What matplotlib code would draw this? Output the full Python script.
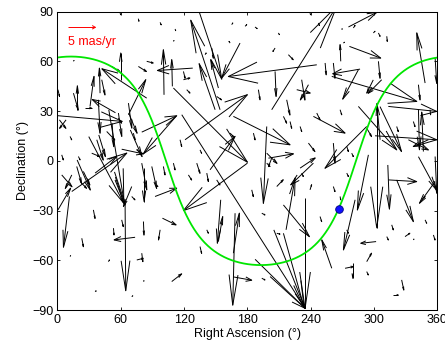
import numpy as np
import matplotlib
matplotlib.use("Agg")
import matplotlib.pyplot as plt
from matplotlib.collections import LineCollection

plt.rcParams["font.family"] = ["Liberation Sans", "DejaVu Sans"]
plt.rcParams["font.size"] = 9

# ---- proper motions: position (deg) and motion (mas/yr) ----
# larger arrows
ra_long = [0.5, 18.9, 30.9, 11.4, 0.5, 40.4, 84.6, 60.0, 67.3, 101.0,
           128.2, 108.9, 134.5, 173.0, 154.1, 245.7, 203.0, 275.7, 276.6, 259.9,
           348.3, 206.2, 313.5, 120.9, 109.9, 166.7, 117.8, 112.4, 79.9, 60.9,
           29.7, 144.6, 198.3, 293.0, 261.4, 300.9, 302.5, 305.7, 285.1, 342.0,
           346.7, 180.0, 214.1, 234.6, 201.5, 216.6, 166.7, 168.3, 154.7, 242.5,
           282.0, 294.6, 259.9, 321.4, 313.5, 357.8, 357.8, 64.1, 54.6, 70.4,
           73.6, 99.5, 92.5, 108.3, 166.7, 152.5, 301.9, 272.5, 279.8, 35.7,
           13.6, 38.8, 57.8, 67.3, 79.9, 199.9, 242.5, 149.4, 152.5, 268.4,
           286.7, 285.1, 214.1, 82.1, 55.0, 48.7, 39.2, 51.8, 67.6, 69.1,
           18.7, 299.2, 305.6, 342.0, 313.0]
dec_long = [27.2, 30.8, 32.8, -21.5, -29.6, 40.8, 37.8, 48.9, 27.8, 39.8,
            55.9, 44.9, 89.5, 71.0, 30.8, 57.9, 30.8, 80.7, 69.0, 50.9,
            46.9, 53.9, 32.8, 12.7, 43.9, 26.8, 27.8, 26.8, 17.3, 7.0,
            14.6, -5.4, 20.7, 20.7, 10.7, 15.1, 34.8, 12.7, 32.8, 30.8,
            5.6, -1.4, -26.6, -22.5, -69.8, -41.6, -55.7, -31.6, -23.5, -1.4,
            -23.5, 3.6, -64.8, -11.5, -11.5, -12.5, 2.6, -23.5, -11.5, -15.5,
            -46.1, -34.6, -21.5, -72.8, -70.0, -48.7, -48.7, -64.8, -61.8, -7.4,
            -18.5, 36.8, 28.8, 34.8, -1.4, 1.6, 26.8, 30.8, 43.9, 60.0,
            55.3, 54.9, -43.7, -4.4, 29.0, 30.7, 15.6, 22.7, 28.7, 18.6,
            0.5, 48.8, 32.7, 2.5, -2.5]
pmra_long = [11.9, 0.0, 0.74, -1.11, 2.35, -0.12, -8.3, 0.0, 3.21, -0.12,
             -6.54, -0.12, 4.14, -3.40, -5.43, -16.36, 12.04, 5.25, 5.80, 15.74,
             -1.54, 0.19, 8.95, 11.54, 13.70, 10.49, 22.84, -6.05, 6.48, 4.01,
             6.48, 4.63, -0.62, -7.72, 0.31, 11.42, 0.0, -0.62, 7.10, 0.19,
             -0.31, -11.85, 4.81, 0.0, 6.48, 1.67, 1.11, -0.43, -0.62, -4.20,
             -2.16, -2.04, -1.85, 3.09, 5.25, -2.90, 0.31, 0.12, 1.85, -1.54,
             -3.89, 2.53, 4.01, 1.85, 3.40, 0.80, -2.84, 1.54, 0.0, 4.01,
             10.19, 0.31, 0.62, 0.62, 0.93, 4.63, 5.86, -2.96, -1.42, -0.12,
             -5.06, -2.90, 3.83, 0.0, -4.3, 2.77, 1.23, 0.31, 1.54, 2.17,
             2.44, -1.2, 3.98, 3.3, 0.3]
pmdec_long = [-0.67, 2.83, 3.54, -5.98, 2.56, 2.95, 3.46, 3.15, 4.13, 5.31,
              -0.28, 3.15, -7.87, -4.13, 10.55, -1.38, 12.2, 1.73, -1.38, -2.95,
              5.91, -2.95, -0.59, 5.31, -8.74, -3.35, -22.83, -4.41, 1.93, -0.55,
              -7.85, 3.94, -9.06, -4.92, -2.36, -0.47, -14.69, 4.25, -5.12, -4.72,
              4.65, -5.59, -3.74, -12.99, -3.74, 6.10, 4.72, -10.83, -5.12, -2.56,
              -5.91, -6.50, 3.35, -4.92, -0.20, -2.56, -4.33, -10.71, -2.95, -2.36,
              -0.31, -0.79, 0.98, 0.91, -0.39, 2.95, -0.20, 0.20, -1.77, 1.97,
              4.53, -3.94, -2.76, -2.95, -3.15, 0.51, -1.97, 5.43, 3.35, 1.97,
              -0.55, -3.46, -8.74, -3.94, 1.56, -10.59, -2.56, -2.77, -2.36, -3.14,
              -3.54, -1.56, -5.3, -3.9, -5.2]

# small arrows
ra_short = [59.4, 76.7, 97.3, 15.2, 111.5, 109.9, 139.9, 146.2, 165.1, 163.6,
            177.8, 187.2, 209.3, 206.2, 218.8, 239.3, 247.2, 269.3, 280.4, 299.3,
            304.1, 312.0, 270.9, 253.6, 304.1, 307.2, 357.8, 0.5, 15.2, 26.2,
            42.0, 51.5, 76.7, 84.6, 119.4, 119.4, 122.5, 150.9, 190.4, 231.4,
            226.7, 237.8, 217.2, 261.4, 342.0, 293.0, 337.2, 332.5, 351.4, 321.4,
            353.0, 267.8, 245.7, 229.9, 214.1, 220.4, 237.8, 198.3, 203.0, 274.1,
            278.8, 229.9, 231.4, 239.3, 261.4, 267.8, 274.1, 184.1, 198.3, 207.8,
            124.1, 132.0, 141.5, 150.9, 109.9, 100.4, 94.1, 70.4, 23.1, 34.1,
            53.1, 60.9, 75.2, 79.9, 81.5, 97.3, 12.0, 48.3, 35.7, 70.4,
            81.5, 293.0, 293.0, 312.0, 316.7, 329.3, 326.1, 318.3, 356.2, 337.2,
            193.6, 207.8, 193.6, 248.8, 274.1, 348.3, 345.2, 141.5, 135.1, 4.1,
            19.9, 12.0, 1.9, 8.2, 4.1, 13.6, 24.6, 21.5, 18.3, 37.3,
            46.7, 32.5, 57.8, 72.0, 89.4, 116.2, 135.1, 163.6, 185.7]
dec_short = [89.1, 85.7, 83.5, 60.0, 79.5, 72.0, 64.0, 68.0, 82.1, 71.0,
             81.1, 80.7, 77.1, 68.0, 64.0, 89.1, 83.1, 79.1, 80.1, 77.1,
             77.1, 75.1, 71.0, 59.0, 60.0, 48.9, 62.0, 42.9, 40.8, 31.8,
             48.9, 56.9, 56.9, 60.0, 53.9, 48.9, 42.9, 38.8, 42.9, 48.9,
             42.9, 45.9, 36.8, 59.0, 45.9, 19.7, 23.7, 12.7, 12.7, 20.7,
             30.8, 30.8, 28.8, 20.7, 26.8, 23.7, 10.7, 4.6, 1.6, 8.7,
             4.6, -4.4, -7.4, -17.5, -15.5, -21.5, -7.4, -17.5, -1.4, -15.5,
             -8.5, -1.4, -7.4, -11.5, -1.4, -3.4, -14.5, -21.5, -46.7, -29.6,
             -40.6, -35.6, -59.8, -55.7, -36.6, -41.6, -57.7, -60.8, -78.9, -81.9,
             -72.8, -60.8, -66.8, -45.7, -38.6, -45.7, -71.8, -80.9, -44.7, -47.7,
             -70.8, -43.7, -31.6, -33.6, -41.6, -35.6, -23.5, -41.6, -51.7, 3.6,
             2.6, 14.7, 24.7, 24.7, -8.5, -8.5, -6.4, -12.5, -3.4, 12.7,
             17.7, 4.6, 25.8, 16.7, -3.4, 12.7, 6.6, 16.7, 16.7]
pmra_short = [0.1, 0.1, 0.2, 0.1, 0.1, 0.1, 0.2, 0.3, 0.2, -0.2,
              0.3, 0.4, 0.2, -0.4, 0.9, 0.1, 0.2, 0.1, 0.3, 0.3,
              0.3, 0.1, 0.2, 0.2, 0.3, -2.5, 0.3, 0.3, 0.9, 1.2,
              0.6, 1.5, 1.5, 1.2, 0.3, 1.2, 0.6, 0.9, 0.3, 0.6,
              2.5, -1.5, 0.6, 0.3, 0.3, 0.9, 0.3, 3.7, -2.8, 0.3,
              0.1, 0.3, 0.6, 0.3, 0.6, 0.3, 1.2, 1.9, -0.6, 0.3,
              0.3, 2.8, 0.3, 0.3, 0.3, 0.1, 0.3, 0.3, 0.6, 1.2,
              0.6, 0.6, 0.3, 0.6, 0.3, 0.3, 0.2, 0.6, 0.3, 0.3,
              0.1, 0.3, 1.2, 0.2, 0.1, -0.3, 0.1, 0.2, 0.2, 0.2,
              0.1, 0.9, 0.3, 0.3, 0.3, 0.9, 0.4, 0.9, 0.3, 0.1,
              0.6, 0.6, 0.6, 0.3, 0.3, 0.3, 0.6, 0.3, 0.3, 0.3,
              0.3, 0.3, 1.2, -1.2, 1.9, -1.2, 1.2, 1.2, 0.9, 1.2,
              1.5, 1.5, 0.6, 0.3, 0.9, 0.3, 0.3, 0.6, 0.3]
pmdec_short = [-0.2, -0.3, -0.3, 0.1, -0.2, 0.1, 0.2, -1.2, 0.2, 0.2,
               0.2, -0.2, -0.2, -0.4, -0.6, -0.2, -0.3, 0.1, 0.3, 0.2,
               -0.4, -0.6, 0.1, -1.4, -2.0, -1.6, -3.0, -0.8, -2.0, 0.0,
               -1.8, -0.6, -0.6, -0.2, -0.8, 0.2, -0.4, -0.4, -1.2, -2.4,
               -0.4, -1.8, -1.8, -1.8, -1.8, -1.0, -0.6, -1.2, -0.8, -0.6,
               -0.6, -0.6, -0.8, -0.6, -0.8, -0.8, -1.0, -1.2, -1.0, -0.6,
               -0.4, 1.2, -0.4, 0.6, -0.6, -0.4, -0.4, -0.8, -0.4, 0.8,
               -0.6, -1.2, -1.0, -0.6, -0.8, -1.0, -0.2, -0.4, -1.0, -1.0,
               -0.8, -0.8, 0.2, -1.0, -1.6, -1.2, 0.1, 0.2, 0.1, 0.1,
               0.1, 1.0, -0.4, -0.4, -0.6, 0.4, -1.2, 0.0, -0.6, 0.1,
               -0.2, -0.1, -0.2, -0.6, -0.4, -0.4, 0.4, -0.4, -0.8, -0.6,
               -0.4, -0.4, -1.0, -1.0, -1.4, -1.6, -1.6, -0.8, -2.0, -2.4,
               -1.0, -0.4, -0.6, -0.8, -2.6, -0.8, -0.4, -0.4, -0.8]

SCALE = 5.12            # plot degrees per mas/yr
REF_PM = 5              # reference arrow, mas/yr
NGP_RA, NGP_DEC = 192.859, 27.128   # north galactic pole
GC_RA, GC_DEC = 266.405, -28.936    # galactic centre


def quiver_segments(x, y, u, v, alpha=0.33, beta=0.23):
    """matlab-style arrows: shaft + open head, in data units"""
    segs = []
    for xi, yi, ui, vi in zip(x, y, u, v):
        xe, ye = xi + ui, yi + vi
        segs.append([(xi, yi), (xe, ye)])
        segs.append([(xe - alpha * (ui + beta * vi), ye - alpha * (vi - beta * ui)),
                     (xe, ye),
                     (xe - alpha * (ui - beta * vi), ye - alpha * (vi + beta * ui))])
    return segs


ra = np.array(ra_long + ra_short)
dec = np.array(dec_long + dec_short)
u = np.array(pmra_long + pmra_short) * SCALE
v = np.array(pmdec_long + pmdec_short) * SCALE

# galactic equator
ra_gp = np.linspace(0, 360, 721)
dec_gp = np.degrees(np.arctan(-np.cos(np.radians(ra_gp - NGP_RA)) / np.tan(np.radians(NGP_DEC))))

fig = plt.figure(figsize=(4.45, 3.4), dpi=100)
ax = fig.add_axes([0.129, 0.088, 0.854, 0.878])

ax.add_collection(LineCollection(quiver_segments(ra, dec, u, v), colors="k", linewidths=0.7))
ax.plot(ra_gp, dec_gp, color="#00e600", lw=1.3)
ax.plot(GC_RA, GC_DEC, "o", ms=5.5, mfc="#1010ff", mec="#000080", mew=0.6)

# scale arrow
ax.add_collection(LineCollection(quiver_segments([10.4], [80.5], [REF_PM * SCALE], [0], alpha=0.12, beta=0.35),
                                 colors="red", linewidths=0.7))
ax.text(10.4, 71.6, f"{REF_PM} mas/yr", color="red", ha="left", va="center", fontsize=9)

ax.set_xlim(0, 360); ax.set_ylim(-90, 90)
ax.set_xticks(range(0, 361, 60)); ax.set_yticks(range(-90, 91, 30))
ax.tick_params(direction="in", top=True, right=True, length=2.5, width=0.6, pad=3)
for s in ax.spines.values():
    s.set_linewidth(0.75)
ax.set_xlabel("Right Ascension (°)", labelpad=1)
ax.set_ylabel("Declination (°)", labelpad=2)

fig.savefig("out.png", dpi=100)
